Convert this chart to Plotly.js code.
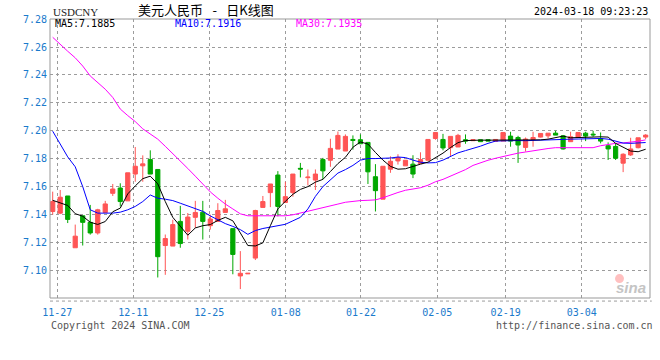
<!DOCTYPE html>
<html>
<head>
<meta charset="utf-8">
<script src="https://cdn.plot.ly/plotly-3.0.1.min.js"></script>
<style>html,body{margin:0;padding:0;background:#fff;}#chart{width:660px;height:360px;}</style>
</head>
<body>
<div id="chart"></div>
<script>
// ---- data ----
const dates = [
 '2023-11-24',
 '2023-11-27','2023-11-28','2023-11-29','2023-11-30','2023-12-01',
 '2023-12-04','2023-12-05','2023-12-06','2023-12-07','2023-12-08',
 '2023-12-11','2023-12-12','2023-12-13','2023-12-14','2023-12-15',
 '2023-12-18','2023-12-19','2023-12-20','2023-12-21','2023-12-22',
 '2023-12-25','2023-12-26','2023-12-27','2023-12-28','2023-12-29',
 '2024-01-01','2024-01-02','2024-01-03','2024-01-04','2024-01-05',
 '2024-01-08','2024-01-09','2024-01-10','2024-01-11','2024-01-12',
 '2024-01-15','2024-01-16','2024-01-17','2024-01-18','2024-01-19',
 '2024-01-22','2024-01-23','2024-01-24','2024-01-25','2024-01-26',
 '2024-01-29','2024-01-30','2024-01-31','2024-02-01','2024-02-02',
 '2024-02-05','2024-02-06','2024-02-07','2024-02-08','2024-02-09',
 '2024-02-12','2024-02-13','2024-02-14','2024-02-15','2024-02-16',
 '2024-02-19','2024-02-20','2024-02-21','2024-02-22','2024-02-23',
 '2024-02-26','2024-02-27','2024-02-28','2024-02-29','2024-03-01',
 '2024-03-04','2024-03-05','2024-03-06','2024-03-07','2024-03-08',
 '2024-03-11','2024-03-12','2024-03-13','2024-03-14'
];
const openP = [
 7.1422,7.1410,7.1533,7.1162,7.1391,7.1344,7.1268,7.1415,7.1552,7.1590,
 7.1498,7.1690,7.1749,7.1794,7.1723,7.1178,7.1174,7.1351,7.1280,7.1380,
 7.1417,7.1320,7.1351,7.1415,7.1299,7.0960,7.0975,7.1088,7.1451,7.1557,
 7.1683,7.1486,7.1557,7.1731,7.1664,7.1647,7.1794,7.1789,7.1869,7.1855,
 7.1938,7.1936,7.1917,7.1671,7.1510,7.1725,7.1784,7.1749,7.1761,7.1765,
 7.1789,7.1945,7.1938,7.1879,7.1884,7.1936,7.1929,7.1936,7.1936,7.1924,
 7.1926,7.1962,7.1952,7.1881,7.1938,7.1955,7.1964,7.1983,7.1964,7.1922,
 7.1952,7.1983,7.1976,7.1945,7.1893,7.1888,7.1768,7.1827,7.1879,7.1955
];
const highP = [
 7.1564,7.1576,7.1533,7.1328,7.1391,7.1469,7.1441,7.1498,7.1619,7.1624,
 7.1699,7.1884,7.1824,7.1860,7.1723,7.1257,7.1363,7.1462,7.1411,7.1498,
 7.1498,7.1399,7.1481,7.1505,7.1299,7.1138,7.0979,7.1434,7.1533,7.1619,
 7.1711,7.1635,7.1690,7.1770,7.1723,7.1723,7.1806,7.1943,7.1995,7.1974,
 7.1967,7.1974,7.1917,7.1761,7.1746,7.1817,7.1832,7.1789,7.1825,7.1846,
 7.1938,7.1988,7.1978,7.1960,7.1978,7.1974,7.1936,7.1936,7.1936,7.1938,
 7.1988,7.1993,7.1964,7.1952,7.1993,7.1983,7.1983,7.2000,7.1967,7.1993,
 7.1988,7.1993,7.2000,7.1988,7.1917,7.1910,7.1839,7.1950,7.1950,7.1976
];
const lowP = [
 7.1399,7.1403,7.1339,7.1162,7.1178,7.1256,7.1256,7.1410,7.1533,7.1458,
 7.1498,7.1635,7.1635,7.1690,7.0949,7.0968,7.1174,7.1162,7.1221,7.1304,
 7.1221,7.1292,7.1351,7.1415,7.0972,7.0866,7.0975,7.1074,7.1451,7.1453,
 7.1387,7.1486,7.1528,7.1666,7.1609,7.1576,7.1652,7.1742,7.1869,7.1855,
 7.1865,7.1907,7.1619,7.1422,7.1510,7.1699,7.1758,7.1749,7.1661,7.1765,
 7.1789,7.1936,7.1860,7.1820,7.1884,7.1907,7.1929,7.1922,7.1926,7.1922,
 7.1926,7.1886,7.1770,7.1851,7.1886,7.1952,7.1945,7.1969,7.1865,7.1922,
 7.1952,7.1926,7.1957,7.1910,7.1791,7.1791,7.1704,7.1820,7.1874,7.1941
];
const closeP = [
 7.1493,7.1524,7.1365,7.1245,7.1344,7.1268,7.1434,7.1476,7.1583,7.1493,
 7.1699,7.1746,7.1763,7.1690,7.1098,7.1228,7.1328,7.1192,7.1382,7.1415,
 7.1351,7.1368,7.1429,7.1441,7.1114,7.0979,7.0979,7.1429,7.1493,7.1619,
 7.1458,7.1528,7.1690,7.1726,7.1668,7.1690,7.1713,7.1874,7.1967,7.1960,
 7.1931,7.1907,7.1706,7.1571,7.1746,7.1782,7.1808,7.1789,7.1690,7.1794,
 7.1938,7.1988,7.1877,7.1960,7.1967,7.1926,7.1936,7.1922,7.1926,7.1938,
 7.1988,7.1926,7.1898,7.1941,7.1952,7.1981,7.1983,7.1969,7.1870,7.1957,
 7.1988,7.1962,7.1971,7.1926,7.1870,7.1803,7.1832,7.1870,7.1950,7.1969
];
const ma5 = [
 7.1502,7.1486,7.1465,7.1406,7.1388,7.1345,7.1329,7.1350,7.1420,7.1446,
 7.1548,7.1605,7.1657,7.1675,7.1620,7.1493,7.1380,7.1316,7.1252,7.1304,
 7.1320,7.1328,7.1358,7.1380,7.1355,7.1268,7.1178,7.1175,7.1197,7.1320,
 7.1440,7.1495,7.1545,7.1580,7.1600,7.1632,7.1652,7.1708,7.1765,7.1810,
 7.1882,7.1920,7.1905,7.1845,7.1790,7.1745,7.1725,7.1728,7.1746,7.1761,
 7.1775,7.1805,7.1840,7.1880,7.1915,7.1930,7.1933,7.1933,7.1933,7.1933,
 7.1931,7.1931,7.1931,7.1931,7.1931,7.1935,7.1940,7.1950,7.1962,7.1950,
 7.1950,7.1950,7.1955,7.1957,7.1955,7.1910,7.1880,7.1855,7.1850,7.1868
];
const ma10 = [
 7.1997,7.1907,7.1813,7.1742,7.1600,7.1434,7.1410,7.1410,7.1410,7.1417,
 7.1434,7.1458,7.1493,7.1540,7.1517,7.1510,7.1500,7.1481,7.1462,7.1439,
 7.1423,7.1390,7.1360,7.1335,7.1315,7.1292,7.1258,7.1285,7.1300,7.1311,
 7.1320,7.1330,7.1355,7.1380,7.1440,7.1530,7.1600,7.1650,7.1697,7.1722,
 7.1752,7.1790,7.1801,7.1801,7.1801,7.1805,7.1812,7.1808,7.1790,7.1775,
 7.1770,7.1772,7.1790,7.1818,7.1842,7.1858,7.1872,7.1890,7.1910,7.1926,
 7.1928,7.1931,7.1930,7.1929,7.1930,7.1931,7.1932,7.1935,7.1938,7.1940,
 7.1941,7.1942,7.1945,7.1945,7.1940,7.1928,7.1912,7.1910,7.1912,7.1916
];
const ma30 = [
 7.2670,7.2617,7.2570,7.2523,7.2464,7.2393,7.2345,7.2298,7.2239,7.2156,
 7.2109,7.2066,7.2014,7.1978,7.1940,7.1889,7.1836,7.1789,7.1730,7.1675,
 7.1620,7.1562,7.1517,7.1475,7.1440,7.1405,7.1391,7.1391,7.1391,7.1391,
 7.1391,7.1391,7.1398,7.1410,7.1422,7.1435,7.1450,7.1462,7.1475,7.1488,
 7.1495,7.1500,7.1502,7.1505,7.1520,7.1541,7.1558,7.1574,7.1583,7.1592,
 7.1610,7.1635,7.1652,7.1675,7.1697,7.1722,7.1752,7.1772,7.1789,7.1803,
 7.1815,7.1830,7.1840,7.1848,7.1858,7.1866,7.1873,7.1879,7.1879,7.1879,
 7.1879,7.1879,7.1879,7.1893,7.1903,7.1910,7.1913,7.1918,7.1925,7.1935
];
// x-axis tick labels and their grid positions (in bar units)
const tickText = ['11-27','12-11','12-25','01-08','01-22','02-05','02-19','03-04'];
const tickPos  = [0.61, 10.74, 20.86, 31.04, 41.07, 51.24, 60.35, 70.48];
const yTicks = [7.08,7.10,7.12,7.14,7.16,7.18,7.20,7.22,7.24,7.26,7.28];
const maLabels = ['MA5:7.1885','MA10:7.1916','MA30:7.1935'];

// ---- chart ----
const xIdx = dates.map((d, i) => i);
const X_RANGE = [-0.36, 79.58];
const Y_RANGE = [7.0802, 7.2801];
const UP = '#ff5555', DOWN = '#00a800';
const MONO = 'DejaVu Sans Mono, Liberation Mono, monospace';
const BLUE = '#1a7acc';
const GRID = '#9c9c9c';

const traces = [
  {
    type: 'candlestick', x: xIdx, open: openP, high: highP, low: lowP, close: closeP,
    increasing: {line: {color: UP, width: 1}, fillcolor: UP},
    decreasing: {line: {color: DOWN, width: 1}, fillcolor: DOWN},
    whiskerwidth: 0, hoverinfo: 'skip', customdata: dates
  },
  {type: 'scatter', mode: 'lines', x: xIdx, y: ma30, line: {color: '#ff00ff', width: 1}, hoverinfo: 'skip'},
  {type: 'scatter', mode: 'lines', x: xIdx, y: ma10, line: {color: '#0000ff', width: 1}, hoverinfo: 'skip'},
  {type: 'scatter', mode: 'lines', x: xIdx, y: ma5, line: {color: '#000000', width: 1}, hoverinfo: 'skip'}
];

const W = 600, H = 280; // plot area size
const px = v => (v - 50) / W;
const py = v => (299 - v) / H;

const layout = {
  width: 660, height: 360,
  margin: {l: 50, r: 10, t: 19, b: 62, pad: 0},
  paper_bgcolor: '#ffffff', plot_bgcolor: 'rgba(0,0,0,0)',
  showlegend: false,
  boxgap: 0.2,
  xaxis: {
    type: 'linear', range: X_RANGE, fixedrange: true,
    tickmode: 'array', tickvals: tickPos, ticktext: tickText,
    showgrid: true, gridcolor: GRID, gridwidth: 1, griddash: 'dot',
    zeroline: false, showline: false, ticks: '', ticklabelstandoff: 7,
    tickfont: {family: MONO, size: 10, color: BLUE},
    rangeslider: {visible: false}, layer: 'above traces'
  },
  yaxis: {
    range: Y_RANGE, fixedrange: true,
    tickmode: 'array', tickvals: yTicks, ticktext: yTicks.map(v => v.toFixed(2)),
    showgrid: true, gridcolor: GRID, gridwidth: 1, griddash: 'dot',
    zeroline: false, showline: false, ticks: '', ticklabelstandoff: 2,
    tickfont: {family: MONO, size: 10, color: BLUE}
  },
  shapes: [
    {type: 'rect', xref: 'paper', yref: 'paper', x0: 0, x1: 1, y0: 0, y1: 1,
     line: {color: '#999999', width: 1}, layer: 'above'},
    {type: 'line', xref: 'paper', yref: 'paper', x0: 0, x1: 1.003, y0: -0.011, y1: -0.011,
     line: {color: GRID, width: 1, dash: 'dot'}},
    {type: 'circle', xref: 'paper', yref: 'paper',
     x0: px(615), x1: px(624), y0: py(284), y1: py(275),
     fillcolor: 'rgba(255,140,140,0.55)', line: {width: 0}}
  ],
  annotations: [
    {xref: 'paper', yref: 'paper', x: px(51), y: py(11.5), xanchor: 'left', yanchor: 'middle',
     text: 'USDCNY', showarrow: false, font: {family: 'Liberation Serif, serif', size: 11, color: '#222'}},
    {xref: 'paper', yref: 'paper', x: px(206), y: py(9.5), xanchor: 'center', yanchor: 'middle',
     text: '美元人民币\u2002 -\u2002 日K线图', showarrow: false, font: {family: 'Noto Sans CJK SC', size: 13, color: '#000'}},
    {xref: 'paper', yref: 'paper', x: px(650), y: py(11), xanchor: 'right', yanchor: 'middle',
     text: '2024-03-18 09:23:23', showarrow: false, font: {family: MONO, size: 10, color: '#000'}},
    {xref: 'paper', yref: 'paper', x: px(53), y: py(24), xanchor: 'left', yanchor: 'middle',
     text: maLabels[0], showarrow: false, font: {family: MONO, size: 10, color: '#000000'}},
    {xref: 'paper', yref: 'paper', x: px(173), y: py(24), xanchor: 'left', yanchor: 'middle',
     text: maLabels[1], showarrow: false, font: {family: MONO, size: 10, color: '#0000ff'}},
    {xref: 'paper', yref: 'paper', x: px(294), y: py(24), xanchor: 'left', yanchor: 'middle',
     text: maLabels[2], showarrow: false, font: {family: MONO, size: 10, color: '#ff00ff'}},
    {xref: 'paper', yref: 'paper', x: px(49), y: py(327), xanchor: 'left', yanchor: 'middle',
     text: 'Copyright 2024 SINA.COM', showarrow: false, font: {family: MONO, size: 10, color: '#555'}},
    {xref: 'paper', yref: 'paper', x: px(655), y: py(327), xanchor: 'right', yanchor: 'middle',
     text: 'http://finance.sina.com.cn', showarrow: false, font: {family: MONO, size: 10, color: '#555'}},
    {xref: 'paper', yref: 'paper', x: px(631), y: py(288), xanchor: 'center', yanchor: 'middle',
     text: '<b><i>sina</i></b>', showarrow: false, font: {family: 'Liberation Sans, sans-serif', size: 15, color: '#c4c4c4'}}
  ]
};

Plotly.newPlot('chart', traces, layout, {displayModeBar: false, staticPlot: true});
</script>
</body>
</html>
